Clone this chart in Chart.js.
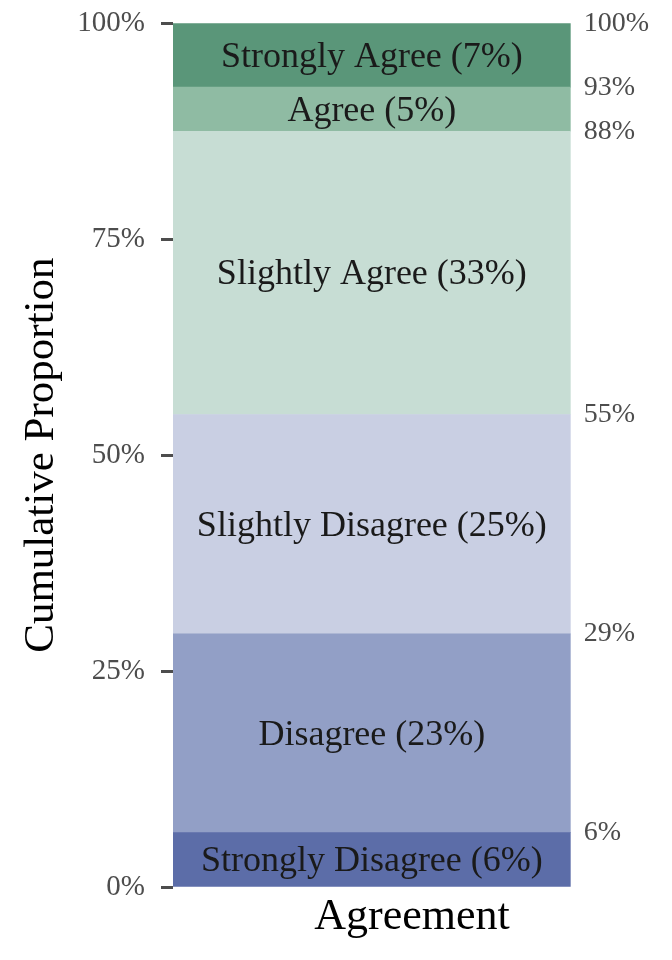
<!DOCTYPE html>
<html>
<head>
<meta charset="utf-8">
<script src="https://cdn.jsdelivr.net/npm/chart.js@4"></script>
<style>
  html, body { margin: 0; padding: 0; background: #fff; }
  #wrap { width: 672px; height: 960px; }
</style>
</head>
<body>
<div id="wrap"><canvas id="chart"></canvas></div>
<script>
// segments from bottom to top
const CATEGORIES = ['Strongly Disagree', 'Disagree', 'Slightly Disagree', 'Slightly Agree', 'Agree', 'Strongly Agree'];
const SHARES     = [6.3, 23.0, 25.4, 32.8, 5.1, 7.4];
const SHARE_TXT  = ['6%', '23%', '25%', '33%', '5%', '7%'];
const CUM_TXT    = ['6%', '29%', '55%', '88%', '93%', '100%'];
const COLORS     = ['#5c6da8', '#929fc6', '#c9cfe3', '#c7ddd4', '#8fbba3', '#5a9679'];
const X_LABEL    = 'Agreement';

const SERIF = "'Liberation Serif', 'DejaVu Serif', serif";

// running sum -> top edge of each segment
const cumulative = [];
SHARES.reduce((acc, v) => { cumulative.push(acc + v); return acc + v; }, 0);

const segmentLabels = {
  id: 'segmentLabels',
  afterDatasetsDraw(chart) {
    const { ctx, chartArea } = chart;
    ctx.save();
    ctx.font = `36px ${SERIF}`;
    ctx.fillStyle = '#1a1a1a';
    ctx.textAlign = 'center';
    ctx.textBaseline = 'middle';
    chart.data.datasets.forEach((ds, i) => {
      const bar = chart.getDatasetMeta(i).data[0];
      ctx.fillText(`${CATEGORIES[i]} (${SHARE_TXT[i]})`, bar.x, (bar.y + bar.base) / 2 + 2);
    });
    // x title, centred on the panel incl. the right-hand labels
    ctx.font = `44px ${SERIF}`;
    ctx.fillStyle = '#000';
    ctx.textBaseline = 'alphabetic';
    ctx.fillText(X_LABEL, 412, chartArea.bottom + 42);
    ctx.restore();
  },
};

new Chart(document.getElementById('chart'), {
  type: 'bar',
  data: {
    labels: [X_LABEL],
    datasets: CATEGORIES.map((name, i) => ({
      label: name,
      data: [SHARES[i]],
      backgroundColor: COLORS[i],
      borderWidth: 0,
      barPercentage: 1,
      categoryPercentage: 1,
      yAxisID: 'y',
    })),
  },
  options: {
    responsive: true, maintainAspectRatio: false, animation: false,
    layout: { padding: { top: 18, bottom: 73, left: 10, right: 10 } },
    plugins: { legend: { display: false }, tooltip: { enabled: false } },
    scales: {
      x: { stacked: true, display: false },
      y: {
        stacked: true, min: 0, max: 100,
        border: { display: false },
        grid: { drawOnChartArea: false, drawTicks: true, tickLength: 12, tickWidth: 3, tickColor: '#4d4d4d' },
        ticks: { stepSize: 25, padding: 16, color: '#4d4d4d', font: { family: SERIF, size: 29, lineHeight: 0.5 }, callback: v => v + '%' },
        title: { display: true, text: 'Cumulative Proportion', color: '#000', font: { family: SERIF, size: 43 }, padding: { top: 6, bottom: 0 } },
      },
      y2: {
        position: 'right', min: 0, max: 100,
        border: { display: false },
        grid: { display: false, drawTicks: false },
        afterBuildTicks: axis => { axis.ticks = cumulative.map(v => ({ value: v })); },
        ticks: {
          autoSkip: false, padding: 13, color: '#4d4d4d',
          font: { family: SERIF, size: 28, lineHeight: 0.5 },
          callback: (v, i) => CUM_TXT[i],
        },
      },
    },
  },
  plugins: [segmentLabels],
});
</script>
</body>
</html>
